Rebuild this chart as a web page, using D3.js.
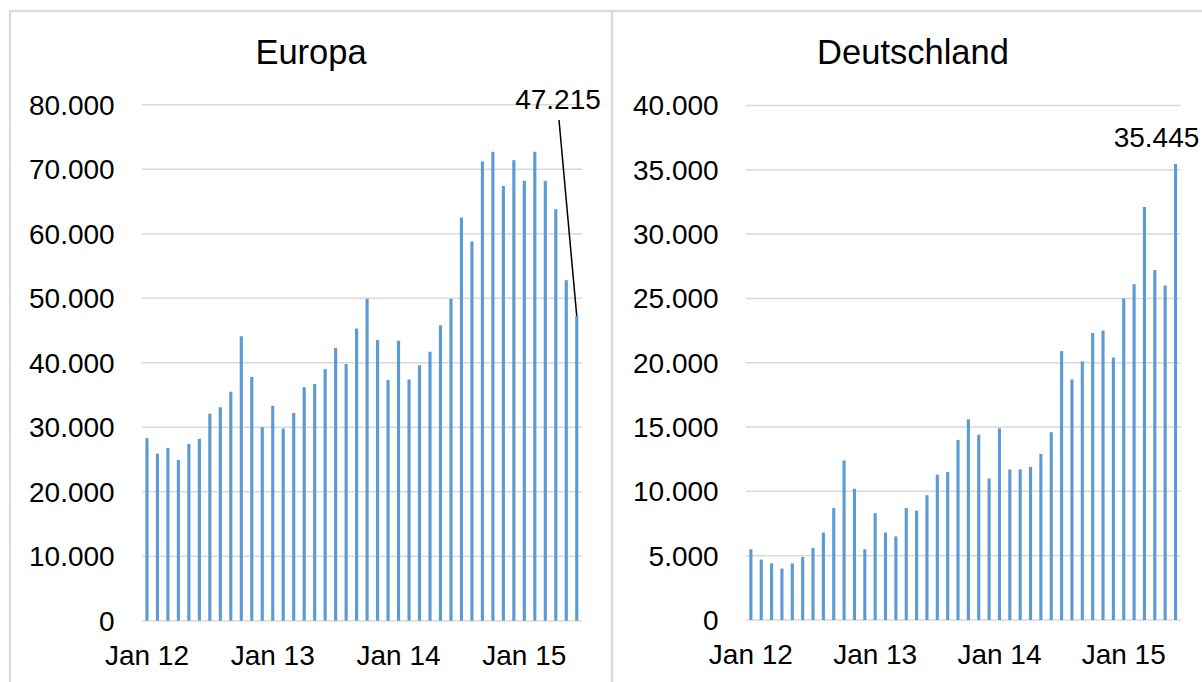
<!DOCTYPE html>
<html>
<head>
<meta charset="utf-8">
<script src="https://cdn.jsdelivr.net/npm/d3@7"></script>
<style>
  html, body { margin: 0; padding: 0; background: #fff; }
  svg { display: block; font-family: "Liberation Sans", Arial, sans-serif; }
</style>
</head>
<body>
<svg id="chart" width="1202" height="682"></svg>
<script>
// monthly values Jan 12 .. Jun 15 (42 months)
const europaValues = [
  28300, 25900, 26800, 24900, 27400, 28200, 32100, 33100, 35500, 44100, 37800, 30000,
  33300, 29800, 32200, 36200, 36700, 39000, 42300, 39800, 45300, 49900, 43500, 37300,
  43400, 37400, 39600, 41700, 45800, 49900, 62500, 58800, 71200, 72700, 67400, 71400,
  68200, 72700, 68200, 63800, 52800, 47215
];
const deutschlandValues = [
  5500, 4700, 4400, 4000, 4400, 4900, 5600, 6800, 8700, 12400, 10200, 5500,
  8300, 6800, 6500, 8700, 8500, 9700, 11300, 11500, 14000, 15600, 14400, 11000,
  14900, 11700, 11700, 11900, 12900, 14600, 20900, 18700, 20100, 22300, 22500, 20400,
  25000, 26100, 32100, 27200, 26000, 35445
];
const years = ["12", "13", "14", "15"];
const monthNames = ["Jan", "Feb", "Mär", "Apr", "Mai", "Jun", "Jul", "Aug", "Sep", "Okt", "Nov", "Dez"];
const months = d3.range(europaValues.length).map(i => monthNames[i % 12] + " " + years[Math.floor(i / 12)]);
const europaTicks = d3.range(0, 80001, 10000);
const deutschlandTicks = d3.range(0, 40001, 5000);

const de = d3.formatLocale({ decimal: ",", thousands: ".", grouping: [3], currency: ["", " €"] });
const fmt = de.format(",");

const svg = d3.select("#chart");

function drawPanel(opt) {
  const g = svg.append("g");

  // panel frame
  g.append("rect")
    .attr("x", opt.frameX).attr("y", 11)
    .attr("width", 602).attr("height", 700)
    .attr("fill", "none")
    .attr("stroke", "#d9d9d9")
    .attr("stroke-width", 2.2);

  g.append("text")
    .attr("x", opt.frameX + 301).attr("y", 64)
    .attr("text-anchor", "middle")
    .style("font-size", "34.5px")
    .text(opt.title);

  const x = d3.scaleBand()
    .domain(months)
    .range([opt.left, opt.right])
    .paddingInner(0.7)
    .paddingOuter(0.35);

  const y = d3.scaleLinear()
    .domain([0, d3.max(opt.ticks)])
    .range([opt.bottom, opt.top]);

  // gridlines
  g.append("g")
    .selectAll("line")
    .data(opt.ticks)
    .join("line")
    .attr("x1", opt.left).attr("x2", opt.right)
    .attr("y1", d => y(d)).attr("y2", d => y(d))
    .attr("stroke", "#d9d9d9")
    .attr("stroke-width", 1.5);

  // y tick labels
  g.append("g")
    .selectAll("text")
    .data(opt.ticks)
    .join("text")
    .attr("x", opt.left - 27)
    .attr("y", d => y(d))
    .attr("dy", "0.36em")
    .attr("text-anchor", "end")
    .style("font-size", "28px")
    .text(d => fmt(d));

  // bars
  g.append("g")
    .selectAll("rect")
    .data(opt.values)
    .join("rect")
    .attr("x", (d, i) => x(months[i]))
    .attr("y", d => y(d))
    .attr("width", x.bandwidth())
    .attr("height", d => y(0) - y(d))
    .attr("fill", "#5b9bd5");

  // x labels, every 12 months
  g.append("g")
    .selectAll("text")
    .data(months.filter((m, i) => i % 12 === 0))
    .join("text")
    .attr("x", d => x(d) + x.bandwidth() / 2)
    .attr("y", opt.bottom + 44)
    .attr("text-anchor", "middle")
    .style("font-size", "28px")
    .text(d => d);

  return { x, y, g };
}

const eu = drawPanel({
  title: "Europa", frameX: 10, left: 141.7, right: 582, top: 104.7, bottom: 620.7,
  values: europaValues, ticks: europaTicks
});
const lastEu = europaValues.length - 1;
const euBarX = eu.x(months[lastEu]) + eu.x.bandwidth() / 2;
eu.g.append("line")
  .attr("x1", 559).attr("y1", 120)
  .attr("x2", euBarX).attr("y2", eu.y(europaValues[lastEu]))
  .attr("stroke", "#000")
  .attr("stroke-width", 1.5);
eu.g.append("text")
  .attr("x", 558).attr("y", 109)
  .attr("text-anchor", "middle")
  .style("font-size", "28px")
  .text(fmt(europaValues[lastEu]));

const dt = drawPanel({
  title: "Deutschland", frameX: 612, left: 745.7, right: 1180.7, top: 105.4, bottom: 620,
  values: deutschlandValues, ticks: deutschlandTicks
});
const lastDe = deutschlandValues.length - 1;
dt.g.append("text")
  .attr("x", 1156.5).attr("y", 146.5)
  .attr("text-anchor", "middle")
  .style("font-size", "28px")
  .text(fmt(deutschlandValues[lastDe]));
</script>
</body>
</html>
